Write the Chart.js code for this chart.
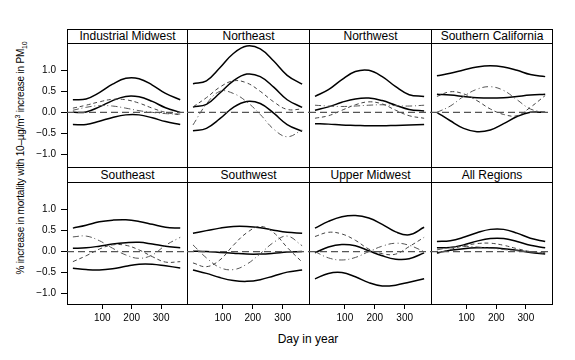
<!DOCTYPE html>
<html lang="en">
<head>
  <meta charset="UTF-8" />
  <title>PM10 mortality by region and season</title>
  <script src="https://cdn.jsdelivr.net/npm/chart.js"></script>
  <style>
    body {
      margin: 0;
      width: 575px;
      height: 360px;
      background: #fff;
      font-family: 'Liberation Sans', Arial, sans-serif;
      position: relative;
      overflow: hidden;
    }
    .frame, .strip, canvas, .title {
      position: absolute;
    }
    .frame {
      box-sizing: border-box;
      border: 1px solid #000;
    }
    .strip {
      box-sizing: border-box;
      border: 1px solid #000;
      background: #fff;
      font-size: 12px;
      text-align: center;
      color: #000;
    }
    .title {
      font-size: 12px;
      color: #000;
      white-space: nowrap;
    }
    #ytitle {
      left: 21px;
      top: 158px;
      font-size: 10px;
      letter-spacing: -0.2px;
      transform: translate(-50%, -50%) rotate(-90deg);
    }
    #xtitle {
      left: 308px;
      top: 339px;
      transform: translate(-50%, -50%);
    }
  </style>
</head>
<body>
  <div class="title" id="ytitle">% increase in mortality with 10&ndash;&micro;g/m<sup style="font-size:7px">3</sup> increase in PM<sub style="font-size:7px">10</sub></div>
  <div class="title" id="xtitle">Day in year</div>

  <script>
    // day of year where the curves were read
    const days = [0, 45, 90, 135, 180, 225, 270, 315, 365];

    const regions = ['Industrial Midwest', 'Northeast', 'Northwest', 'Southern California',
                     'Southeast', 'Southwest', 'Upper Midwest', 'All Regions'];

    // seasonal estimate (middle solid line)
    const estimate = [
      [0.00, 0.01, 0.13, 0.28, 0.38, 0.37, 0.26, 0.11, 0.00],
      [0.13, 0.19, 0.46, 0.75, 0.91, 0.85, 0.60, 0.30, 0.12],
      [0.05, 0.13, 0.24, 0.32, 0.34, 0.28, 0.17, 0.07, 0.03],
      [0.43, 0.41, 0.38, 0.35, 0.34, 0.35, 0.38, 0.41, 0.43],
      [0.08, 0.09, 0.13, 0.18, 0.21, 0.22, 0.18, 0.13, 0.09],
      [0.01, 0.00, -0.02, -0.04, -0.06, -0.06, -0.04, -0.01, 0.00],
      [-0.03, 0.11, 0.17, 0.14, 0.02, -0.10, -0.18, -0.17, -0.03],
      [0.09, 0.10, 0.16, 0.25, 0.31, 0.31, 0.24, 0.15, 0.09]
    ];

    // upper band (solid)
    const upper = [
      [0.30, 0.32, 0.47, 0.67, 0.81, 0.80, 0.65, 0.45, 0.30],
      [0.68, 0.75, 1.06, 1.40, 1.58, 1.51, 1.22, 0.88, 0.67],
      [0.38, 0.54, 0.78, 0.97, 1.00, 0.85, 0.61, 0.42, 0.38],
      [0.87, 0.93, 1.01, 1.08, 1.11, 1.08, 1.00, 0.90, 0.85],
      [0.56, 0.63, 0.71, 0.75, 0.76, 0.72, 0.65, 0.58, 0.56],
      [0.44, 0.50, 0.56, 0.60, 0.60, 0.57, 0.51, 0.46, 0.44],
      [0.56, 0.72, 0.83, 0.86, 0.80, 0.65, 0.47, 0.40, 0.58],
      [0.24, 0.26, 0.34, 0.45, 0.53, 0.53, 0.44, 0.32, 0.24]
    ];

    // lower band (solid)
    const lower = [
      [-0.29, -0.29, -0.21, -0.12, -0.06, -0.06, -0.13, -0.22, -0.29],
      [-0.44, -0.38, -0.15, 0.12, 0.26, 0.21, -0.02, -0.29, -0.45],
      [-0.27, -0.28, -0.30, -0.31, -0.32, -0.32, -0.31, -0.30, -0.29],
      [0.00, -0.20, -0.38, -0.46, -0.42, -0.27, -0.10, 0.00, 0.00],
      [-0.40, -0.43, -0.44, -0.41, -0.35, -0.30, -0.30, -0.34, -0.39],
      [-0.44, -0.52, -0.62, -0.69, -0.71, -0.67, -0.58, -0.49, -0.44],
      [-0.65, -0.52, -0.50, -0.60, -0.74, -0.82, -0.80, -0.73, -0.65],
      [-0.03, 0.03, 0.07, 0.09, 0.09, 0.07, 0.03, -0.02, -0.06]
    ];

    // alternative fit, dashed
    const altDashed = [
      [0.10, 0.17, 0.25, 0.31, 0.30, 0.22, 0.10, 0.00, -0.06],
      [0.13, 0.35, 0.60, 0.75, 0.70, 0.50, 0.25, 0.07, 0.08],
      [-0.14, -0.08, 0.05, 0.18, 0.25, 0.20, 0.05, -0.08, -0.14],
      [0.38, 0.49, 0.44, 0.28, 0.08, -0.05, -0.08, 0.12, 0.40],
      [-0.24, -0.10, 0.06, 0.16, 0.15, 0.04, -0.12, -0.25, -0.24],
      [-0.27, -0.36, -0.20, 0.15, 0.45, 0.60, 0.45, 0.10, -0.25],
      [0.36, 0.46, 0.42, 0.27, 0.06, -0.05, -0.06, 0.12, 0.34],
      [-0.05, 0.05, 0.14, 0.19, 0.20, 0.15, 0.07, 0.00, -0.05]
    ];

    // alternative fit, dot-dash
    const altDotDash = [
      [0.05, 0.12, 0.16, 0.15, 0.10, 0.04, 0.00, -0.03, -0.04],
      [-0.30, 0.20, 0.50, 0.45, 0.25, -0.05, -0.40, -0.58, -0.42],
      [0.17, 0.15, 0.14, 0.15, 0.17, 0.18, 0.16, 0.15, 0.17],
      [0.00, 0.15, 0.38, 0.55, 0.61, 0.52, 0.30, 0.08, 0.00],
      [0.35, 0.37, 0.26, 0.08, -0.08, -0.16, -0.08, 0.15, 0.34],
      [0.16, -0.15, -0.38, -0.43, -0.30, -0.05, 0.22, 0.37, 0.14],
      [0.00, -0.15, -0.20, -0.14, 0.00, 0.13, 0.20, 0.15, 0.00],
      [0.04, 0.10, 0.12, 0.11, 0.08, 0.05, 0.02, -0.01, -0.02]
    ];

    const xTicks = [100, 200, 300];
    const yTicks = [-1, -0.5, 0, 0.5, 1];

    // panel geometry (pixels)
    const colL = [67, 187, 309, 431];
    const colW = [120, 122, 122, 121];
    const stripT = [29, 167];
    const stripH = [14, 15];
    const plotT = [43, 182];
    const plotH = [124, 122];
    const yMin = [-1.3, -1.25];
    const yMax = [1.65, 1.66];
    const xMin = -20, xMax = 388;
    const yAxisW = 45, xAxisH = 30;

    const pts = arr => days.map((d, i) => ({ x: d, y: arr[i] }));

    regions.forEach((name, k) => {
      const r = Math.floor(k / 4), c = k % 4;
      const L = colL[c], W = colW[c];

      const frame = document.createElement('div');
      frame.className = 'frame';
      Object.assign(frame.style, {
        left: L + 'px', top: stripT[r] + 'px',
        width: (W + 1) + 'px', height: (stripH[r] + plotH[r] + 1) + 'px'
      });
      document.body.appendChild(frame);

      const strip = document.createElement('div');
      strip.className = 'strip';
      strip.textContent = name;
      Object.assign(strip.style, {
        left: L + 'px', top: stripT[r] + 'px',
        width: (W + 1) + 'px', height: (stripH[r] + 1) + 'px',
        lineHeight: (stripH[r] - 1) + 'px'
      });
      document.body.appendChild(strip);

      const showY = c === 0, showX = r === 1;
      const cv = document.createElement('canvas');
      const cw = W + (showY ? yAxisW : 0);
      const ch = plotH[r] + (showX ? xAxisH : 0);
      cv.width = cw; cv.height = ch;
      Object.assign(cv.style, {
        left: (L - (showY ? yAxisW : 0)) + 'px', top: plotT[r] + 'px',
        width: cw + 'px', height: ch + 'px'
      });
      document.body.appendChild(cv);

      const line = (arr, color, width, dash) => ({
        data: pts(arr), borderColor: color, borderWidth: width,
        borderDash: dash, pointRadius: 0, tension: 0.4, fill: false
      });

      new Chart(cv.getContext('2d'), {
        type: 'line',
        data: {
          datasets: [
            { data: [{ x: xMin, y: 0 }, { x: xMax, y: 0 }], borderColor: '#555',
              borderWidth: 1.2, borderDash: [7, 4], pointRadius: 0 },
            line(altDashed[k], '#444', 1, [4, 3]),
            line(altDotDash[k], '#555', 1, [6, 3, 1, 3]),
            line(upper[k], '#000', 1.5, []),
            line(estimate[k], '#000', 1.5, []),
            line(lower[k], '#000', 1.5, [])
          ]
        },
        options: {
          responsive: false,
          maintainAspectRatio: false,
          animation: false,
          layout: { padding: 0 },
          plugins: { legend: { display: false }, tooltip: { enabled: false } },
          scales: {
            x: {
              type: 'linear', min: xMin, max: xMax, display: showX,
              afterBuildTicks: s => { s.ticks = xTicks.map(v => ({ value: v })); },
              afterFit: s => {
                s.height = showX ? xAxisH : 0;
                s.paddingLeft = 0; s.paddingRight = 0;
              },
              border: { display: false },
              grid: { drawOnChartArea: false, tickLength: 5, tickColor: '#000' },
              ticks: { color: '#000', padding: 3, maxRotation: 0,
                       font: { family: 'Liberation Sans', size: 10 } }
            },
            y: {
              min: yMin[r], max: yMax[r], display: showY,
              afterBuildTicks: s => { s.ticks = yTicks.map(v => ({ value: v })); },
              afterFit: s => {
                s.width = showY ? yAxisW : 0;
                s.paddingTop = 0; s.paddingBottom = 0;
              },
              border: { display: false },
              grid: { drawOnChartArea: false, tickLength: 6, tickColor: '#000' },
              ticks: { color: '#000', padding: 5,
                       callback: v => v.toFixed(1).replace('-', '\u2212'),
                       font: { family: 'Liberation Sans', size: 10 } }
            }
          }
        }
      });
    });
  </script>
</body>
</html>
